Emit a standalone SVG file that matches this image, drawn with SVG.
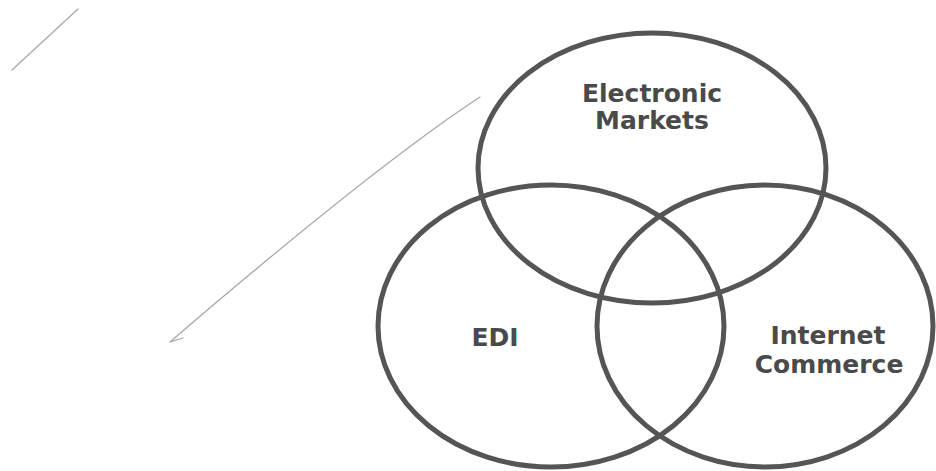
<svg xmlns="http://www.w3.org/2000/svg" width="936" height="471" viewBox="0 0 936 471">
<style>
.set{fill:none;stroke:#555;stroke-width:5}
.lbl{font-family:"DejaVu Sans","Liberation Sans",Arial,sans-serif;font-weight:bold;font-size:25px;fill:#4a4a4a;text-anchor:middle}
.pencil{fill:none;stroke:#a8a8a8;stroke-width:1.3;stroke-linecap:round}
</style>
<rect width="936" height="471" fill="#fff"/>
<g id="pencil-marks">
<path class="pencil" stroke="#cfcfcf" d="M78 9 L12 70"/>
<path class="pencil" d="M480 97 Q375 166 170 342 M170 342 L183 338"/>
</g>
<g id="electronic-markets">
<ellipse class="set" cx="652" cy="168" rx="174" ry="135"/>
<text class="lbl" x="652" y="102">Electronic</text>
<text class="lbl" x="652" y="129">Markets</text>
</g>
<g id="edi">
<ellipse class="set" cx="551" cy="326" rx="173" ry="141"/>
<text class="lbl" x="495" y="346">EDI</text>
</g>
<g id="internet-commerce">
<ellipse class="set" cx="765" cy="326" rx="168" ry="141"/>
<text class="lbl" x="828" y="344">Internet</text>
<text class="lbl" x="829" y="373">Commerce</text>
</g>
<g id="connectors"></g>
</svg>
